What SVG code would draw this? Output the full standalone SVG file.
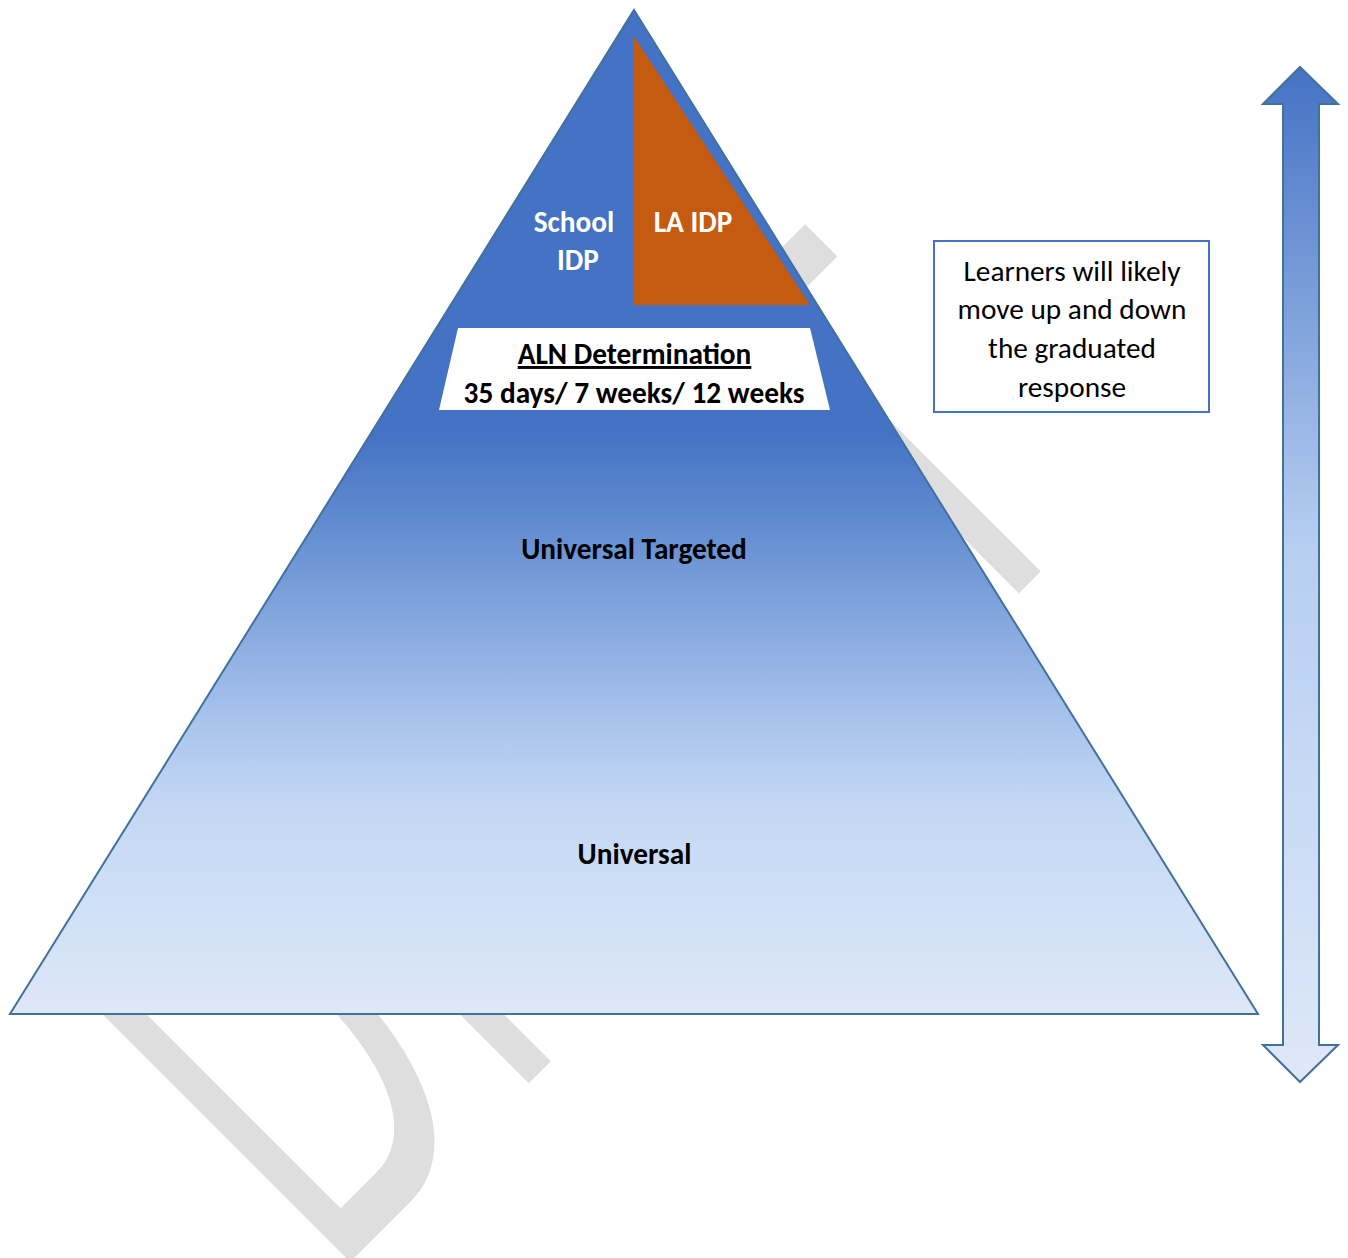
<svg xmlns="http://www.w3.org/2000/svg" width="1348" height="1258" viewBox="0 0 1348 1258">
  <defs>
    <linearGradient id="gPyr" gradientUnits="userSpaceOnUse" x1="0" y1="10" x2="0" y2="1014">
      <stop offset="0" stop-color="#4472C4"/>
      <stop offset="0.42" stop-color="#4472C4"/>
      <stop offset="0.55" stop-color="#6F97D6"/>
      <stop offset="0.70" stop-color="#A6C1EC"/>
      <stop offset="0.79" stop-color="#C3D7F4"/>
      <stop offset="1" stop-color="#DDE8F8"/>
    </linearGradient>
    <linearGradient id="gArrow" gradientUnits="userSpaceOnUse" x1="0" y1="67" x2="0" y2="1082">
      <stop offset="0" stop-color="#4472C4"/>
      <stop offset="0.47" stop-color="#B6CEF1"/>
      <stop offset="1" stop-color="#DEE8F9"/>
    </linearGradient>
    <style>
      .wm { font-family: "Liberation Sans", Arial, sans-serif; font-size: 599px; fill: #DEDEDE; }
      .lbl { font-family: Carlito, Lato, "Open Sans", sans-serif; font-weight: bold; text-anchor: middle; font-size: 29.3px; }
      .wht { fill: #FFFFFF; }
      .blk { fill: #000000; }
      .note { font-family: Carlito, Lato, "Open Sans", sans-serif; font-size: 29.3px; fill: #000000; text-anchor: middle; }
      .edge { stroke: #41719C; stroke-width: 2; stroke-linejoin: miter; }
    </style>
  </defs>

  <rect x="0" y="0" width="1348" height="1258" fill="#FFFFFF"/>

  <g id="watermark" transform="rotate(-45)">
    <text class="wm" transform="scale(0.557,1)" x="-1206.5 -753.1 -369.8 70 385.3" y="1140">DRAFT</text>
  </g>

  <g id="pyramid">
    <polygon points="634,10 1258,1014 10,1014" fill="url(#gPyr)" class="edge"/>
  </g>

  <g id="la-idp">
    <polygon points="633,35 810,305 633,305" fill="#C55A11"/>
    <text class="lbl wht" x="693" y="232">LA IDP</text>
  </g>

  <g id="school-idp">
    <text class="lbl wht" x="574" y="232">School</text>
    <text class="lbl wht" x="578" y="270">IDP</text>
  </g>

  <g id="aln-determination">
    <polygon points="458,328 810,328 830,410 439,410" fill="#FFFFFF"/>
    <text class="lbl blk" x="634.5" y="364" text-decoration="underline">ALN Determination</text>
    <text class="lbl blk" x="634" y="403">35 days/ 7 weeks/ 12 weeks</text>
  </g>

  <g id="universal-targeted">
    <text class="lbl blk" x="634" y="559">Universal Targeted</text>
  </g>

  <g id="universal">
    <text class="lbl blk" x="634.5" y="864">Universal</text>
  </g>

  <g id="note">
    <rect x="934" y="241" width="275" height="171" fill="#FFFFFF" stroke="#4472C4" stroke-width="2"/>
    <text class="note" x="1072" y="281">Learners will likely</text>
    <text class="note" x="1072" y="319">move up and down</text>
    <text class="note" x="1072" y="358">the graduated</text>
    <text class="note" x="1072" y="397">response</text>
  </g>

  <g id="connectors">
    <polygon points="1300,67 1338,104 1319,104 1319,1045 1338,1045 1300,1082 1263,1045 1283,1045 1283,104 1263,104" fill="url(#gArrow)" class="edge"/>
  </g>
</svg>
